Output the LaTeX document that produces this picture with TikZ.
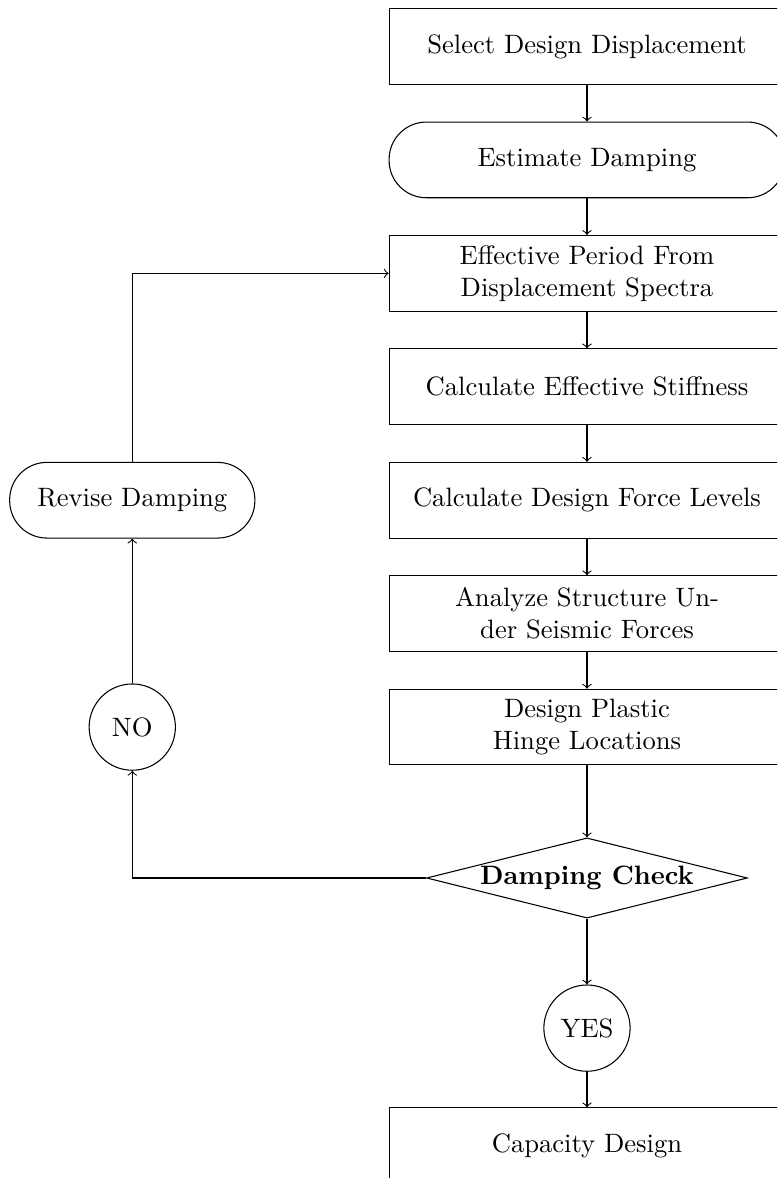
\documentclass[tikz,border=0pt]{standalone}
\usepackage{amsmath}
\usepackage{tikz}
\usetikzlibrary{arrows,positioning,calc,shapes.geometric}

\begin{document}
\begin{tikzpicture}[node distance=0.485cm,
            procbox/.style={draw, rectangle, minimum width=5.23cm, minimum height=1cm, align=center},
            roundbox/.style={procbox, rounded corners=14pt},
            decision/.style={draw, diamond, aspect=4, inner sep=0pt, minimum width=4.24cm, minimum height=1.06cm},
            answer/.style={draw, circle, minimum size=1.14cm},
            flow/.style={draw, ->}]
        \path[use as bounding box, clip] (-7.757,0.614) rectangle (2.511,-14.953);
        % main column
        \node[procbox] (select) {Select Design Displacement};
        \node[roundbox, below=of select] (estimate) {Estimate Damping};
        \node[procbox, below=of estimate] (period) {Effective Period From\\Displacement Spectra};
        \node[procbox, below=of period] (stiffness) {Calculate Effective Stiffness};
        \node[procbox, below=of stiffness] (force) {Calculate Design Force Levels};
        \node[procbox, below=of force] (analyze) {Analyze Structure Un-\\der Seismic Forces};
        \node[procbox, below=of analyze] (hinge) {Design Plastic\\Hinge Locations};
        \node[decision, below=0.95cm of hinge] (check) {\textbf{Damping Check}};
        \node[answer, below=0.87cm of check] (yes) {YES};
        \node[procbox, below=0.47cm of yes] (capacity) {Capacity Design};
        % loop back
        \node[roundbox, minimum width=3.24cm, left=1.76cm of force] (revise) {Revise Damping};
        \node[answer] (no) at (revise |- hinge) {NO};

        \path[flow] (select) -- (estimate);
        \path[flow] (estimate) -- (period);
        \path[flow] (period) -- (stiffness);
        \path[flow] (stiffness) -- (force);
        \path[flow] (force) -- (analyze);
        \path[flow] (analyze) -- (hinge);
        \path[flow] (hinge) -- (check);
        \path[flow] (check) -- (yes);
        \path[flow] (yes) -- (capacity);
        \path[flow] (check.west) -| (no.south);
        \path[flow] (no) -- (revise);
        \path[flow] (revise.north) |- (period.west);
\end{tikzpicture}
\end{document}
